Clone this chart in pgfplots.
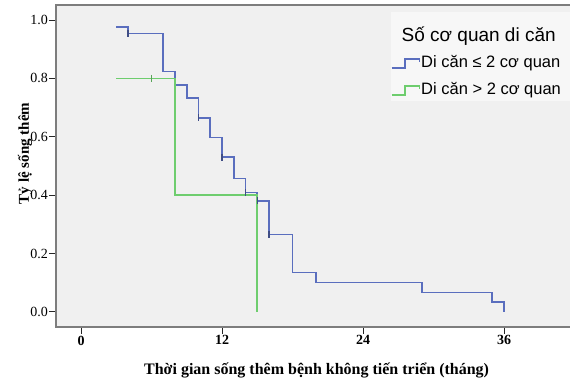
\documentclass[border=0pt]{standalone}
\usepackage{pgfplots}
\pgfplotsset{compat=1.18}
\usetikzlibrary{calc}
\usepackage{fontspec}
\setmainfont{Liberation Serif}
\newfontfamily\legfont{Liberation Sans}
\definecolor{bg}{RGB}{240,240,240}
\definecolor{legbg}{RGB}{247,247,247}
\definecolor{framec}{RGB}{125,125,125}
\definecolor{kmblue}{RGB}{90,110,190}
\definecolor{kmgreen}{RGB}{110,205,110}
\begin{document}
\begin{tikzpicture}[x=1pt,y=1pt]
\useasboundingbox (0,0) rectangle (570,382);
\begin{axis}[
  name=ax,
  at={(56pt,55pt)}, anchor=south west,
  scale only axis, width=514pt, height=322pt,
  xmin=-2.128, xmax=41.617, ymin=-0.0514, ymax=1.0514,
  clip=false,
  axis background/.style={fill=bg},
  axis line style={draw=none},
  xtick={0,12,24,36}, ytick={0,0.2,0.4,0.6,0.8,1.0},
  xtick pos=bottom, ytick pos=left,
  tick align=outside, major tick length=7pt,
  tick style={black!85, line width=1pt},
  /pgf/number format/assume math mode=true,
  yticklabel style={font=\fontsize{14}{16}\selectfont, inner sep=1pt,
    /pgf/number format/fixed, /pgf/number format/precision=1, /pgf/number format/fixed zerofill},
  xticklabel style={font=\bfseries\fontsize{14}{16}\selectfont, inner sep=1.5pt},
  xlabel={Thời gian sống thêm bệnh không tiến triển (tháng)},
  xlabel style={font=\bfseries\fontsize{16}{18}\selectfont, at={(axis description cs:0.507,-0.136)}, anchor=center},
  ylabel={Tỷ lệ sống thêm},
  ylabel style={font=\bfseries\fontsize{15}{17}\selectfont, at={(axis description cs:-0.060,0.539)}, anchor=center, rotate=0},
]
\addplot[kmblue, line width=1.6pt, const plot, mark=none] coordinates {
(3,0.977)(4,0.954)(7,0.823)(8,0.777)(9,0.733)(10,0.665)(11,0.598)(12,0.530)
(13,0.457)(14,0.409)(15,0.381)(16,0.265)(18,0.135)(20,0.101)(29,0.067)(35,0.034)(36,0)};
\addplot[kmgreen, line width=1.6pt, const plot, mark=none] coordinates {
(3,0.800)(8,0.400)(15,0)};
\addplot[kmblue!70!black, only marks, mark=|, mark size=3.5pt, mark options={line width=1.4pt}] coordinates {
(4,0.954)(10,0.665)(12,0.530)(14,0.409)(15,0.381)(16,0.265)};
\addplot[kmgreen!80!black, only marks, mark=|, mark size=3.5pt, mark options={line width=1.4pt}] coordinates {
(6,0.800)};
\end{axis}
\draw[framec, line width=1.8pt] ($(ax.north east)+(5,0)$) -- (ax.north west) -- (ax.south west) -- ($(ax.south east)+(5,0)$);
% legend (pixel coordinates, y measured from bottom)
\fill[legbg] (391,281) rectangle (585,370);
\node[anchor=base west, inner sep=0pt, font=\legfont\fontsize{19}{22}\selectfont] at (401.5,340.5) {Số cơ quan di căn};
\draw[kmblue, line width=1.6pt] (391.7,314) -- (405,314) -- (405,323) -- (419.3,323) -- (419.3,320);
\node[anchor=base west, inner sep=0pt, font=\legfont\fontsize{16.5}{19}\selectfont] at (421,314) {Di căn ≤ 2 cơ quan};
\draw[kmgreen, line width=1.6pt] (391.7,287) -- (405,287) -- (405,296) -- (419.3,296) -- (419.3,293);
\node[anchor=base west, inner sep=0pt, font=\legfont\fontsize{16.5}{19}\selectfont] at (421,287) {Di căn > 2 cơ quan};
\end{tikzpicture}
\end{document}
